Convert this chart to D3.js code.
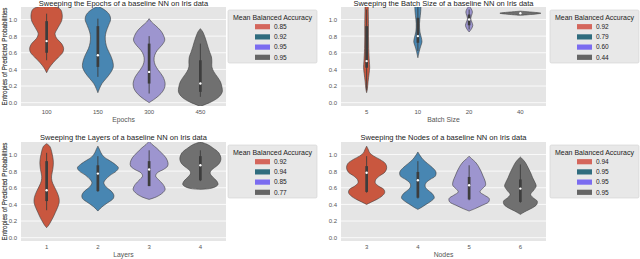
<!DOCTYPE html>
<html>
<head>
<meta charset="utf-8">
<script src="https://cdn.jsdelivr.net/npm/d3@7"></script>
<style>
  html, body { margin: 0; padding: 0; background: #fff; }
  svg text { font-family: "Liberation Sans", Arial, sans-serif; }
</style>
</head>
<body>
<svg id="chart" width="640" height="259"></svg>
<script>
// ---- data ----
// each violin: [value, relative half width] from top to bottom
// each box: [lower whisker, q1, median, q3, upper whisker]
const epochsCats = ["100", "150", "300", "450"];
const epochsAcc = ["0.85", "0.92", "0.95", "0.95"];
const epochsShapes = [
  [[1.17,0],[1.15,0.45],[1.12,0.68],[1.06,0.76],[0.99,0.74],[0.93,0.62],[0.87,0.48],[0.83,0.41],[0.77,0.5],[0.71,0.73],[0.65,0.83],[0.6,0.78],[0.55,0.59],[0.48,0.32],[0.42,0.13],[0.36,0]],
  [[1.16,0],[1.12,0.3],[1.06,0.56],[1.0,0.62],[0.93,0.52],[0.85,0.4],[0.79,0.36],[0.72,0.38],[0.65,0.46],[0.58,0.6],[0.5,0.72],[0.43,0.75],[0.36,0.62],[0.29,0.4],[0.23,0.2],[0.17,0.08],[0.12,0]],
  [[1.01,0],[0.97,0.12],[0.93,0.3],[0.87,0.55],[0.81,0.7],[0.75,0.76],[0.69,0.62],[0.63,0.4],[0.57,0.27],[0.51,0.24],[0.45,0.3],[0.39,0.45],[0.31,0.68],[0.23,0.78],[0.17,0.74],[0.11,0.58],[0.05,0.3],[0.02,0.12],[0.0,0]],
  [[0.89,0],[0.85,0.12],[0.79,0.22],[0.73,0.3],[0.67,0.37],[0.61,0.45],[0.55,0.54],[0.49,0.56],[0.43,0.56],[0.37,0.66],[0.31,0.83],[0.25,0.98],[0.19,1.05],[0.13,1.07],[0.08,0.95],[0.04,0.75],[0.0,0.45],[-0.03,0.15],[-0.05,0]]
];
const epochsBoxes = [[0.51,0.60,0.74,0.98,1.07],[0.31,0.43,0.57,0.92,1.01],[0.11,0.23,0.37,0.71,0.80],[0.07,0.13,0.23,0.51,0.71]];

const batchCats = ["5", "10", "20", "40"];
const batchAcc = ["0.92", "0.79", "0.60", "0.44"];
const batchShapes = [
  [[1.25,0.08],[1.1,0.08],[0.95,0.09],[0.8,0.09],[0.65,0.1],[0.5,0.13],[0.42,0.15],[0.35,0.12],[0.25,0.07],[0.17,0.04],[0.12,0]],
  [[1.25,0.12],[1.15,0.15],[1.05,0.12],[0.95,0.08],[0.85,0.1],[0.78,0.17],[0.73,0.2],[0.68,0.14],[0.62,0.07],[0.54,0]],
  [[1.16,0],[1.13,0.1],[1.09,0.16],[1.05,0.12],[1.01,0.08],[0.97,0.13],[0.93,0.18],[0.89,0.12],[0.85,0]],
  [[1.1,0],[1.09,0.5],[1.08,0.9],[1.075,1.0],[1.07,0.9],[1.06,0.5],[1.05,0]]
];
const batchBoxes = [[0.15,0.42,0.5,0.92,1.12],[0.62,0.72,0.8,1.02,1.15],[0.88,0.93,1.0,1.06,1.12],[1.065,1.07,1.075,1.08,1.09]];

const layersCats = ["1", "2", "3", "4"];
const layersAcc = ["0.92", "0.94", "0.85", "0.77"];
const layersShapes = [
  [[1.13,0],[1.1,0.15],[1.04,0.24],[0.97,0.3],[0.9,0.33],[0.82,0.3],[0.74,0.24],[0.68,0.26],[0.62,0.36],[0.55,0.5],[0.48,0.6],[0.42,0.61],[0.36,0.53],[0.3,0.42],[0.25,0.33],[0.2,0.22],[0.15,0.1],[0.12,0]],
  [[1.1,0],[1.06,0.08],[1.02,0.15],[0.97,0.3],[0.93,0.55],[0.88,0.85],[0.84,1.0],[0.8,0.9],[0.75,0.6],[0.7,0.38],[0.66,0.29],[0.61,0.4],[0.56,0.65],[0.51,0.78],[0.47,0.75],[0.42,0.48],[0.37,0.2],[0.32,0]],
  [[1.16,0],[1.12,0.15],[1.08,0.35],[1.02,0.6],[0.96,0.82],[0.9,0.92],[0.86,0.9],[0.82,0.7],[0.78,0.4],[0.74,0.32],[0.7,0.45],[0.64,0.68],[0.58,0.78],[0.53,0.62],[0.49,0.35],[0.46,0]],
  [[1.15,0],[1.12,0.35],[1.08,0.6],[1.02,0.9],[0.96,1.0],[0.92,0.98],[0.88,0.88],[0.84,0.68],[0.8,0.5],[0.77,0.48],[0.73,0.6],[0.68,0.8],[0.64,0.86],[0.61,0.72],[0.59,0.45],[0.58,0]]
];
const layersBoxes = [[0.33,0.44,0.57,0.92,1.02],[0.55,0.56,0.77,0.87,0.98],[0.62,0.62,0.82,0.92,1.05],[0.68,0.69,0.87,0.98,1.05]];

const nodesCats = ["3", "4", "5", "6"];
const nodesAcc = ["0.94", "0.95", "0.95", "0.95"];
const nodesShapes = [
  [[1.1,0],[1.06,0.08],[1.02,0.15],[0.98,0.35],[0.94,0.65],[0.89,0.92],[0.84,0.98],[0.79,0.9],[0.74,0.62],[0.7,0.45],[0.66,0.42],[0.62,0.58],[0.58,0.84],[0.54,0.88],[0.5,0.75],[0.46,0.5],[0.43,0.25],[0.4,0]],
  [[1.03,0],[0.99,0.1],[0.94,0.25],[0.89,0.48],[0.84,0.72],[0.79,0.88],[0.74,0.85],[0.7,0.6],[0.66,0.4],[0.62,0.35],[0.58,0.45],[0.53,0.7],[0.48,0.8],[0.44,0.65],[0.4,0.4],[0.36,0.15],[0.34,0]],
  [[0.98,0],[0.95,0.12],[0.91,0.3],[0.86,0.45],[0.8,0.58],[0.74,0.68],[0.68,0.78],[0.63,0.8],[0.59,0.65],[0.55,0.53],[0.51,0.75],[0.47,0.98],[0.43,0.95],[0.39,0.65],[0.35,0.3],[0.32,0]],
  [[0.97,0],[0.94,0.12],[0.9,0.25],[0.84,0.38],[0.78,0.5],[0.72,0.6],[0.66,0.72],[0.62,0.77],[0.57,0.65],[0.52,0.5],[0.48,0.62],[0.44,0.82],[0.4,0.8],[0.36,0.6],[0.32,0.28],[0.28,0]]
];
const nodesBoxes = [[0.54,0.55,0.78,0.86,0.98],[0.47,0.48,0.69,0.79,0.92],[0.45,0.46,0.63,0.73,0.87],[0.42,0.43,0.59,0.70,0.88]];

const yTicks = [0.0, 0.2, 0.4, 0.6, 0.8, 1.0];
const violinColors = ["#c9573f", "#4886b2", "#9d95cf", "#707070"];
const legendColors = ["#d4665c", "#2f6c7e", "#7b6cf0", "#656565"];

const panels = [
  { title: "Sweeping the Epochs of a baseline NN on Iris data", xlabel: "Epochs",
    cats: epochsCats, acc: epochsAcc, shapes: epochsShapes, boxes: epochsBoxes, col: 0, row: 0 },
  { title: "Sweeping the Batch Size of a baseline NN on Iris data", xlabel: "Batch Size",
    cats: batchCats, acc: batchAcc, shapes: batchShapes, boxes: batchBoxes, col: 1, row: 0 },
  { title: "Sweeping the Layers of a baseline NN on Iris data", xlabel: "Layers",
    cats: layersCats, acc: layersAcc, shapes: layersShapes, boxes: layersBoxes, col: 0, row: 1 },
  { title: "Sweeping the Nodes of a baseline NN on Iris data", xlabel: "Nodes",
    cats: nodesCats, acc: nodesAcc, shapes: nodesShapes, boxes: nodesBoxes, col: 1, row: 1 }
];

// ---- layout ----
const svg = d3.select("#chart");
const PW = 205, PH = 99;
const colX = [21, 341], rowY = [7, 142];

panels.forEach((p, i) => {
  const x0 = colX[p.col], y0 = rowY[p.row];
  const g = svg.append("g").attr("transform", `translate(${x0},${y0})`);

  const x = d3.scaleBand().domain(p.cats).range([0, PW]);
  const y = d3.scaleLinear().domain([-0.04, 1.15]).range([PH, 0]);
  const w = d3.scaleLinear().domain([0, 1]).range([0, x.bandwidth() * 0.4]);

  g.append("rect").attr("width", PW).attr("height", PH).attr("fill", "#e5e5e5");

  g.append("g")
    .selectAll("line")
    .data(yTicks)
    .join("line")
    .attr("x1", 0).attr("x2", PW)
    .attr("y1", d => y(d)).attr("y2", d => y(d))
    .attr("stroke", "#fff").attr("stroke-width", 0.8);

  const clipId = "clip" + i;
  g.append("clipPath").attr("id", clipId)
    .append("rect").attr("width", PW).attr("height", PH);

  const body = g.append("g").attr("clip-path", `url(#${clipId})`);

  p.shapes.forEach((shape, j) => {
    const cx = x(p.cats[j]) + x.bandwidth() / 2;
    const area = d3.area()
      .y(d => y(d[0]))
      .x0(d => cx - w(d[1]))
      .x1(d => cx + w(d[1]))
      .curve(d3.curveCatmullRom);

    body.append("path")
      .attr("d", area(shape))
      .attr("fill", violinColors[j])
      .attr("stroke", "#3f3f3f")
      .attr("stroke-width", 0.6);

    const [lo, q1, med, q3, hi] = p.boxes[j];
    body.append("line")
      .attr("x1", cx).attr("x2", cx)
      .attr("y1", y(lo)).attr("y2", y(hi))
      .attr("stroke", "#3d3d3d").attr("stroke-width", 0.9);
    body.append("line")
      .attr("x1", cx).attr("x2", cx)
      .attr("y1", y(q1)).attr("y2", y(q3))
      .attr("stroke", "#3d3d3d").attr("stroke-width", 2.7);
    body.append("circle")
      .attr("cx", cx).attr("cy", y(med)).attr("r", 1.2)
      .attr("fill", "#fff");
  });

  // axes
  const yAxis = g.append("g").call(d3.axisLeft(y).tickValues(yTicks).tickSize(0).tickPadding(4).tickFormat(d3.format(".1f")));
  yAxis.select(".domain").remove();
  yAxis.selectAll("text").attr("fill", "#555").style("font-size", "6px");

  const xAxis = g.append("g").attr("transform", `translate(0,${PH})`)
    .call(d3.axisBottom(x).tickSize(0).tickPadding(4));
  xAxis.select(".domain").remove();
  xAxis.selectAll("text").attr("fill", "#555").style("font-size", "6px");

  g.append("text")
    .attr("x", PW / 2).attr("y", PH + 15.5)
    .attr("text-anchor", "middle")
    .attr("fill", "#555").style("font-size", "6.8px")
    .text(p.xlabel);

  g.append("text")
    .attr("transform", `translate(${5 - x0},${PH / 2}) rotate(-90)`)
    .attr("text-anchor", "middle").attr("dy", "0.35em")
    .attr("fill", "#555").style("font-size", "6.3px")
    .text("Entropies of Predicted Probabilities");

  // titles in the top row sit against the page edge; keep them inside it
  g.append("text")
    .attr("x", PW / 2).attr("y", p.row === 0 ? 5.8 - y0 : -2.2)
    .attr("text-anchor", "middle")
    .attr("fill", "#222").style("font-size", "7.5px")
    .text(p.title);

  // legend
  const lg = g.append("g").attr("transform", `translate(${PW + 2 + p.col * 2},3)`);
  lg.append("rect")
    .attr("width", 89).attr("height", 53).attr("rx", 1.5)
    .attr("fill", "#e8e8e8").attr("stroke", "#d0d0d0").attr("stroke-width", 0.6);
  lg.append("text")
    .attr("x", 44.5).attr("y", 7.2).attr("dy", "0.35em")
    .attr("text-anchor", "middle")
    .attr("fill", "#222").style("font-size", "7px")
    .text("Mean Balanced Accuracy");
  const items = lg.selectAll("g.item")
    .data(p.acc)
    .join("g")
    .attr("class", "item")
    .attr("transform", (d, k) => `translate(0,${16.7 + k * 10.2})`);
  items.append("rect")
    .attr("x", 27).attr("y", -2.6).attr("width", 15).attr("height", 5.2)
    .attr("fill", (d, k) => legendColors[k]);
  items.append("text")
    .attr("x", 46).attr("dy", "0.35em")
    .attr("fill", "#222").style("font-size", "6.5px")
    .text(d => d);
});
</script>
</body>
</html>
